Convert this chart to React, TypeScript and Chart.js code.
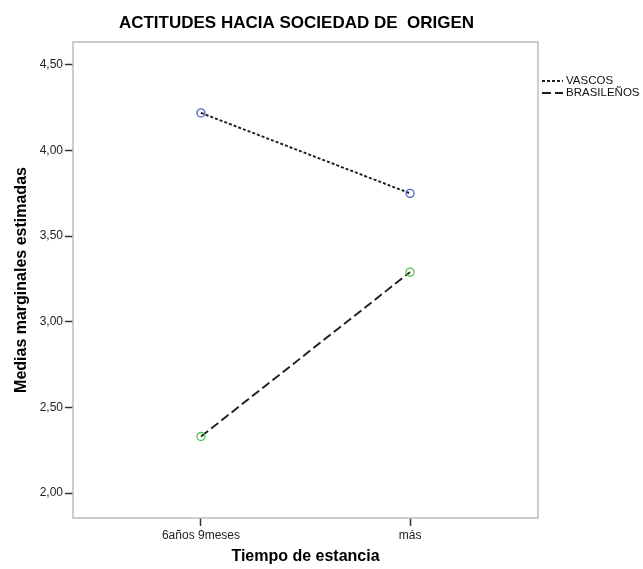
import React, { useEffect, useRef } from 'react';
import { Chart, registerables } from 'chart.js';

Chart.register(...registerables);

const categories = ['6años 9meses', 'más'];
const seriesNames = ['VASCOS', 'BRASILEÑOS'];
const vascos = [4.22, 3.75];
const brasilenos = [2.33, 3.29];
const yTicks = [2.0, 2.5, 3.0, 3.5, 4.0, 4.5];
const chartTitle = 'ACTITUDES HACIA SOCIEDAD DE  ORIGEN';
const xTitle = 'Tiempo de estancia';
const yTitle = 'Medias marginales estimadas';

const FONT = '"Liberation Sans", Arial, sans-serif';

const decor = {
  id: 'decor',
  beforeDatasetsDraw(chart: any) {
    const { ctx, chartArea: a } = chart;
    ctx.save();
    ctx.strokeStyle = '#bdbdbd';
    ctx.lineWidth = 1.5;
    ctx.strokeRect(a.left, a.top, a.right - a.left, a.bottom - a.top);
    ctx.restore();
  },
  afterDraw(chart: any) {
    const { ctx, chartArea: a } = chart;
    ctx.save();
    ctx.fillStyle = '#000';
    ctx.font = `bold 17px ${FONT}`;
    ctx.textAlign = 'center';
    ctx.textBaseline = 'middle';
    ctx.fillText(chartTitle, (a.left + a.right) / 2 - 9, 23);

    ctx.font = `11.5px ${FONT}`;
    ctx.textAlign = 'left';
    chart.data.datasets.forEach((ds: any, i: number) => {
      const y = 81 + i * 12;
      ctx.save();
      ctx.setLineDash(ds.borderDash || []);
      ctx.lineWidth = ds.borderWidth;
      ctx.strokeStyle = ds.borderColor;
      ctx.beginPath();
      ctx.moveTo(a.right + 4, y);
      ctx.lineTo(a.right + 25, y);
      ctx.stroke();
      ctx.restore();
      ctx.fillStyle = '#111';
      ctx.fillText(ds.label, a.right + 28, y);
    });
    ctx.restore();
  },
};

export default function App() {
  const ref = useRef<HTMLCanvasElement>(null);

  useEffect(() => {
    if (!ref.current) return;
    const chart = new Chart(ref.current, {
      type: 'line',
      data: {
        datasets: [
          {
            label: seriesNames[0],
            data: vascos.map((v, i) => ({ x: i, y: v })),
            borderColor: '#1e1e1e',
            borderWidth: 1.9,
            borderDash: [3, 2],
            pointRadius: 4,
            pointBorderWidth: 1.3,
            pointBorderColor: '#4a66c4',
            pointBackgroundColor: 'rgba(0,0,0,0)',
            pointStyle: 'circle',
            fill: false,
          },
          {
            label: seriesNames[1],
            data: brasilenos.map((v, i) => ({ x: i, y: v })),
            borderColor: '#1e1e1e',
            borderWidth: 1.9,
            borderDash: [9, 4],
            pointRadius: 4,
            pointBorderWidth: 1.3,
            pointBorderColor: '#4cc24c',
            pointBackgroundColor: 'rgba(0,0,0,0)',
            pointStyle: 'circle',
            fill: false,
          },
        ],
      },
      options: {
        responsive: false,
        animation: false,
        devicePixelRatio: 1,
        layout: { padding: { top: 42, right: 105, left: 0, bottom: 0 } },
        plugins: {
          legend: { display: false },
          title: { display: false },
          tooltip: { enabled: false },
        },
        scales: {
          x: {
            type: 'linear',
            min: -0.612,
            max: 1.612,
            afterBuildTicks: (s: any) => {
              s.ticks = categories.map((_, i) => ({ value: i }));
            },
            afterFit: (s: any) => {
              s.height = 51;
            },
            ticks: {
              callback: (v: any) => categories[v as number] ?? '',
              font: { size: 12, family: FONT },
              color: '#222',
              padding: 2,
              maxRotation: 0,
              autoSkip: false,
            },
            grid: {
              display: true,
              drawOnChartArea: false,
              drawTicks: true,
              tickLength: 8,
              tickColor: '#333',
              tickWidth: 1.5,
            },
            border: { display: false },
            title: {
              display: true,
              text: xTitle,
              font: { size: 16, weight: 'bold', family: FONT },
              color: '#000',
              padding: { top: 0, bottom: 3 },
            },
          },
          y: {
            type: 'linear',
            min: 1.854,
            max: 4.634,
            afterBuildTicks: (s: any) => {
              s.ticks = yTicks.map((v) => ({ value: v }));
            },
            afterFit: (s: any) => {
              s.width = 73;
            },
            ticks: {
              callback: (v: any) => Number(v).toFixed(2).replace('.', ','),
              font: { size: 12, family: FONT },
              color: '#222',
              padding: 2,
            },
            grid: {
              display: true,
              drawOnChartArea: false,
              drawTicks: true,
              tickLength: 8,
              tickColor: '#333',
              tickWidth: 1.5,
            },
            border: { display: false },
            title: {
              display: true,
              text: yTitle,
              font: { size: 16, weight: 'bold', family: FONT },
              color: '#000',
              padding: { top: 12, bottom: 0 },
            },
          },
        },
      },
      plugins: [decor],
    });
    return () => chart.destroy();
  }, []);

  return (
    <div style={{ position: 'fixed', left: 0, top: 0, width: 643, height: 569, background: '#fff' }}>
      <canvas ref={ref} width={643} height={569} style={{ width: 643, height: 569, display: 'block' }} />
    </div>
  );
}
